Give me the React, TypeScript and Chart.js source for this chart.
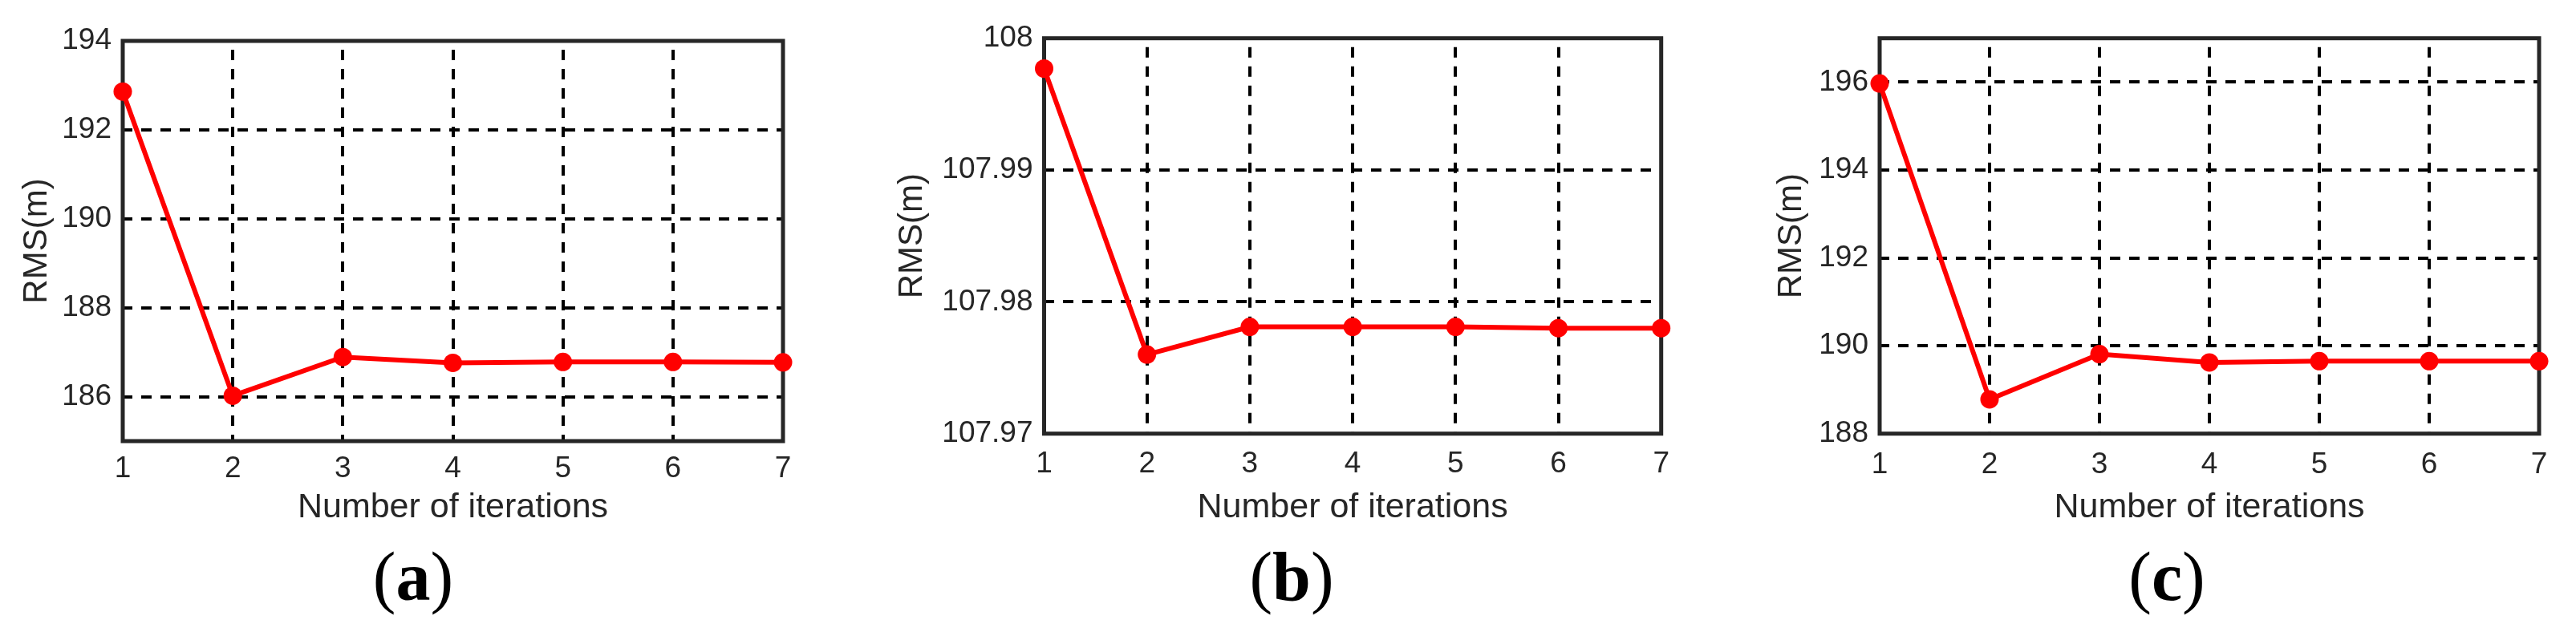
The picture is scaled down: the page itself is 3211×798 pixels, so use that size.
import React, { useEffect, useRef } from 'react';
import { Chart, registerables } from 'chart.js';

Chart.register(...registerables);

// ---- data ----
const iterations = ['1', '2', '3', '4', '5', '6', '7'];
const rmsA = [192.86, 186.02, 186.89, 186.76, 186.78, 186.78, 186.77];
const rmsB = [107.9977, 107.976, 107.9781, 107.9781, 107.9781, 107.978, 107.978];
const rmsC = [195.97, 188.78, 189.81, 189.62, 189.65, 189.65, 189.65];
const yTicksA = [186, 188, 190, 192, 194];
const yTickLabelsA = ['186', '188', '190', '192', '194'];
const yTicksB = [107.97, 107.98, 107.99, 108];
const yTickLabelsB = ['107.97', '107.98', '107.99', '108'];
const yTicksC = [188, 190, 192, 194, 196];
const yTickLabelsC = ['188', '190', '192', '194', '196'];
const yRangeA = [185, 194];
const yRangeB = [107.97, 108];
const yRangeC = [188, 197];
const panelLetters = ['a', 'b', 'c'];
const yTitle = 'RMS(m)';
const xTitle = 'Number of iterations';

const SANS = '"Liberation Sans", Arial, Helvetica, sans-serif';
const SERIF = '"Liberation Serif", "Times New Roman", serif';
const PAGE_H = 798;

type Panel = {
  data: number[];
  ticks: number[];
  tickLabels: string[];
  range: number[];
  letter: string;
  canvasLeft: number;
  canvasWidth: number;
  padLeft: number;
  padTop: number;
  padRight: number;
  padBottom: number;
  yAxisWidth: number;
  xAxisHeight: number;
  xTickPad: number;
  labelCenter: number;
};

const panels: Panel[] = [
  {
    data: rmsA, ticks: yTicksA, tickLabels: yTickLabelsA, range: yRangeA, letter: panelLetters[0],
    canvasLeft: 0, canvasWidth: 1040,
    padLeft: 21.3, padTop: 51, padRight: 64, padBottom: 139.4,
    yAxisWidth: 131.7, xAxisHeight: 108.6, xTickPad: 13, labelCenter: 515,
  },
  {
    data: rmsB, ticks: yTicksB, tickLabels: yTickLabelsB, range: yRangeB, letter: panelLetters[1],
    canvasLeft: 1040, canvasWidth: 1090,
    padLeft: 71.8, padTop: 47.7, padRight: 59.3, padBottom: 139.4,
    yAxisWidth: 189.7, xAxisHeight: 117.9, xTickPad: 16, labelCenter: 1610,
  },
  {
    data: rmsC, ticks: yTicksC, tickLabels: yTickLabelsC, range: yRangeC, letter: panelLetters[2],
    canvasLeft: 2130, canvasWidth: 1081,
    padLeft: 77.8, padTop: 47.7, padRight: 46, padBottom: 139.4,
    yAxisWidth: 135.2, xAxisHeight: 117.9, xTickPad: 17, labelCenter: 2701,
  },
];

const framePlugin = {
  id: 'frameBox',
  beforeDatasetsDraw(chart: any) {
    const { ctx, chartArea } = chart;
    const { left, top, right, bottom } = chartArea;
    ctx.save();
    ctx.setLineDash([]);
    ctx.strokeStyle = '#262626';
    ctx.lineWidth = 5;
    ctx.lineJoin = 'miter';
    ctx.strokeRect(left, top, right - left, bottom - top);
    ctx.restore();
  },
};

function PanelChart({ p }: { p: Panel }) {
  const ref = useRef<HTMLCanvasElement | null>(null);
  useEffect(() => {
    if (!ref.current) return;
    const chart = new Chart(ref.current, {
      type: 'line',
      data: {
        labels: iterations,
        datasets: [
          {
            data: p.data,
            borderColor: '#ff0000',
            backgroundColor: '#ff0000',
            borderWidth: 6,
            pointRadius: 11.5,
            pointBorderWidth: 0,
            pointBackgroundColor: '#ff0000',
            pointHoverRadius: 11.5,
            tension: 0,
            clip: false as any,
          },
        ],
      },
      options: {
        animation: false,
        responsive: false,
        devicePixelRatio: 1,
        layout: {
          padding: { left: p.padLeft, top: p.padTop, right: p.padRight, bottom: p.padBottom },
        },
        plugins: {
          legend: { display: false },
          tooltip: { enabled: false },
        },
        scales: {
          x: {
            type: 'category',
            offset: false,
            grid: { color: '#000000', lineWidth: 4, drawTicks: false },
            border: { display: false, dash: [13, 11], dashOffset: 13 },
            ticks: {
              color: '#262626',
              font: { family: SANS, size: 37 },
              padding: p.xTickPad,
              maxRotation: 0,
              autoSkip: false,
            },
            title: {
              display: true,
              text: xTitle,
              color: '#262626',
              font: { family: SANS, size: 43 },
              padding: 0,
            },
            afterFit: (s: any) => {
              s.height = p.xAxisHeight;
            },
          },
          y: {
            type: 'linear',
            min: p.range[0],
            max: p.range[1],
            afterBuildTicks: (s: any) => {
              s.ticks = p.ticks.map((v) => ({ value: v }));
            },
            grid: { color: '#000000', lineWidth: 4, drawTicks: false },
            border: { display: false, dash: [13, 11], dashOffset: 1 },
            ticks: {
              color: '#262626',
              font: { family: SANS, size: 37 },
              padding: 14,
              autoSkip: false,
              callback: (_v: any, i: number) => p.tickLabels[i],
            },
            title: {
              display: true,
              text: yTitle,
              color: '#262626',
              font: { family: SANS, size: 42 },
              padding: 0,
            },
            afterFit: (s: any) => {
              s.width = p.yAxisWidth;
            },
          },
        },
      },
      plugins: [framePlugin],
    });
    return () => chart.destroy();
  }, [p]);

  return (
    <>
      <canvas
        ref={ref}
        width={p.canvasWidth}
        height={PAGE_H}
        style={{ position: 'absolute', left: p.canvasLeft, top: 0, width: p.canvasWidth, height: PAGE_H }}
      />
      <div
        style={{
          position: 'absolute',
          left: p.labelCenter - 150,
          width: 300,
          top: 676,
          fontFamily: SERIF,
          fontSize: 86,
          lineHeight: '86px',
          textAlign: 'center',
          color: '#000',
        }}
      >
        (<b>{p.letter}</b>)
      </div>
    </>
  );
}

export default function App() {
  return (
    <div
      style={{
        position: 'absolute',
        left: 0,
        top: 0,
        width: 3211,
        height: PAGE_H,
        background: '#ffffff',
        overflow: 'hidden',
      }}
    >
      {panels.map((p) => (
        <PanelChart key={p.letter} p={p} />
      ))}
    </div>
  );
}
